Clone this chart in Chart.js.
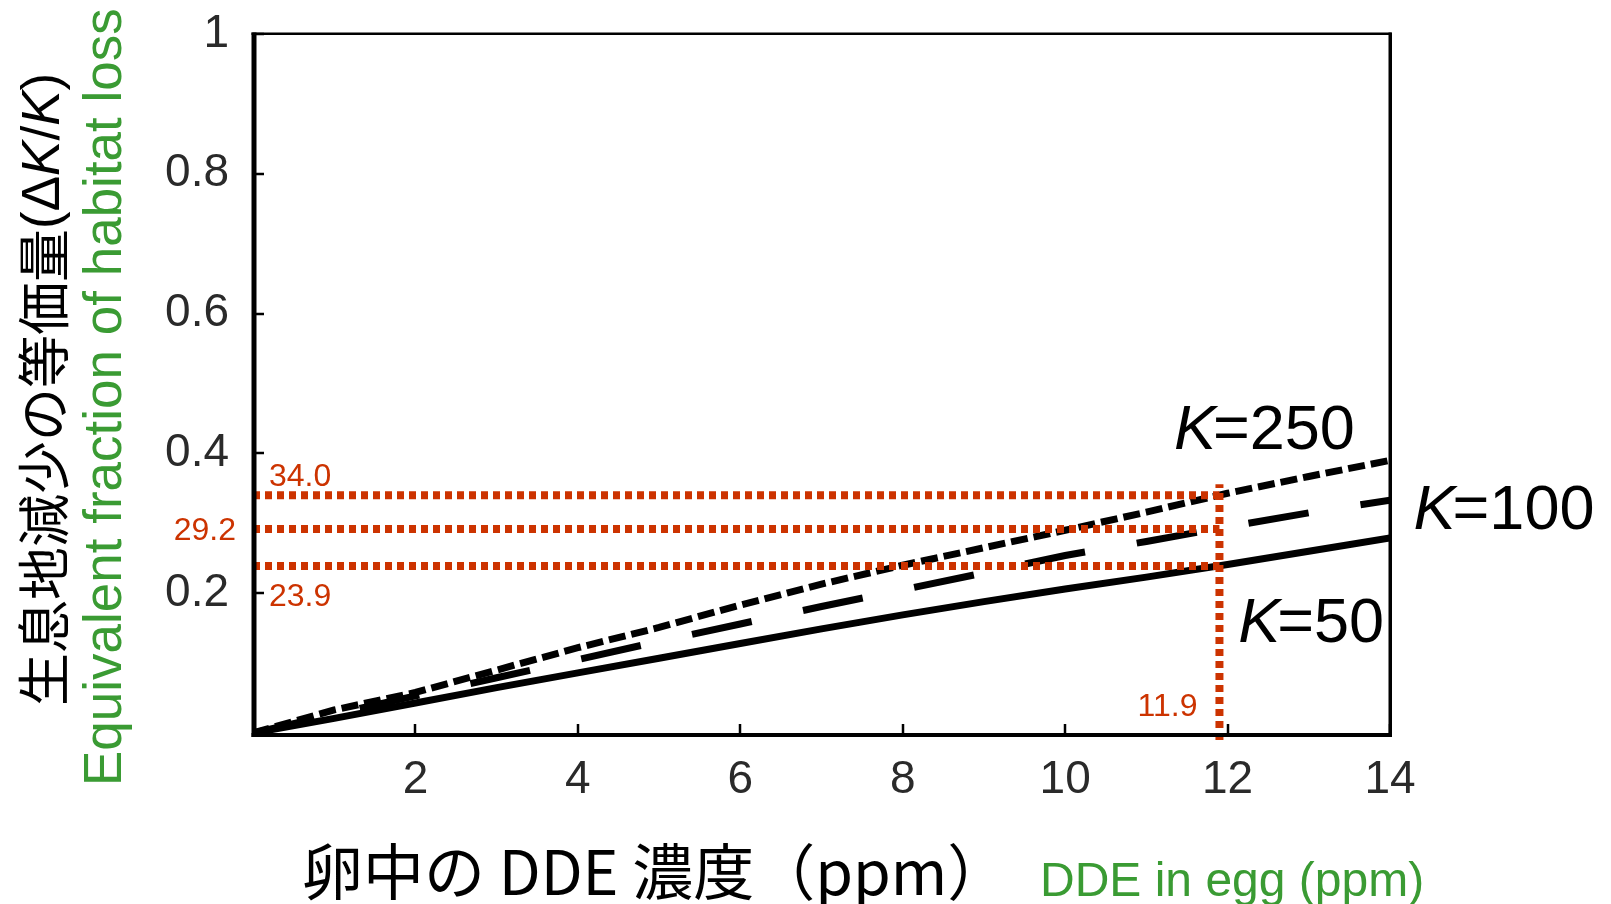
<!DOCTYPE html>
<html>
<head>
<meta charset="utf-8">
<script src="https://cdn.jsdelivr.net/npm/chart.js@4.4.1/dist/chart.umd.min.js"></script>
<style>
  html, body { margin: 0; padding: 0; background: #ffffff; }
  #wrap { width: 1611px; height: 904px; position: relative; }
</style>
</head>
<body>
<div id="wrap"><canvas id="chart" width="1611" height="904"></canvas></div>
<script>
// DDE concentration in egg (ppm) and equivalent fraction of habitat loss (ΔK/K)
const ddePpm   = [0, 1, 2, 3, 4, 5, 6, 7, 8, 9, 10, 11, 12, 13, 14];
const fracK50  = [0, 0.021, 0.043, 0.065, 0.086, 0.107, 0.128, 0.149, 0.169, 0.188, 0.206, 0.223, 0.241, 0.260, 0.279];
const fracK100 = [0, 0.027, 0.053, 0.079, 0.105, 0.131, 0.156, 0.181, 0.205, 0.229, 0.254, 0.274, 0.295, 0.315, 0.333];
const fracK250 = [0, 0.033, 0.058, 0.090, 0.122, 0.151, 0.183, 0.213, 0.240, 0.265, 0.290, 0.316, 0.343, 0.367, 0.390];

const seriesK = ['250', '100', '50'];

const xTickValues = [2, 4, 6, 8, 10, 12, 14];
const xTickLabels = ['2', '4', '6', '8', '10', '12', '14'];
const yTickValues = [0.2, 0.4, 0.6, 0.8, 1];
const yTickLabels = ['0.2', '0.4', '0.6', '0.8', '1'];

// reference reading at 11.9 ppm
const refDde = 11.9;
const refDdeLabel = '11.9';
const refFractions = [0.340, 0.292, 0.239];
const refFractionLabels = ['34.0', '29.2', '23.9'];

const yTitleJa = '生息地減少の等価量';
const yTitleEn = 'Equivalent fraction of habitat loss';
const xTitleJa = '卵中の DDE 濃度（ppm）';
const xTitleEn = 'DDE in egg (ppm)';

const RED = '#cc3300';
const GREEN = '#3a9b33';
const SANS = '"Liberation Sans", Arial, sans-serif';
const CJK = '"Noto Sans CJK JP", sans-serif';

const toPoints = ys => ddePpm.map((x, i) => ({ x: x, y: ys[i] }));

function refLine(data) {
  return {
    data: data,
    borderColor: RED,
    borderWidth: 8,
    borderDash: [7, 5],
    borderCapStyle: 'butt',
    pointRadius: 0,
    tension: 0,
    fill: false,
    order: 0,
    clip: false
  };
}

const curveBase = {
  borderColor: '#000000',
  borderWidth: 7,
  borderCapStyle: 'butt',
  borderJoinStyle: 'miter',
  pointRadius: 0,
  tension: 0,
  fill: false
};

// axis frame with heavier left/bottom edges
const framePlugin = {
  id: 'frame',
  afterDatasetsDraw(chart) {
    const { ctx, chartArea: a } = chart;
    ctx.save();
    ctx.fillStyle = '#000';
    ctx.fillRect(a.left - 1.5, a.top - 1.5, 5, a.bottom - a.top + 5.5);
    ctx.fillRect(a.left - 1.5, a.bottom, a.right - a.left + 3, 4);
    ctx.fillRect(a.left - 1.5, a.top - 1.5, a.right - a.left + 3, 2.5);
    ctx.fillRect(a.right - 1.5, a.top - 1.5, 3.5, a.bottom - a.top + 5.5);
    // inward tick marks
    const xs = chart.scales.x, ys = chart.scales.y;
    ctx.strokeStyle = '#000';
    ctx.lineWidth = 2.5;
    ctx.beginPath();
    xs.ticks.forEach(t => {
      const px = Math.round(xs.getPixelForValue(t.value));
      ctx.moveTo(px, a.bottom);
      ctx.lineTo(px, a.bottom - 9);
    });
    ys.ticks.forEach(t => {
      const py = Math.round(ys.getPixelForValue(t.value));
      ctx.moveTo(a.left, py);
      ctx.lineTo(a.left + 11, py);
    });
    ctx.stroke();
    ctx.restore();
  }
};

// series names, reference values and axis titles
const textPlugin = {
  id: 'texts',
  afterDraw(chart) {
    const { ctx } = chart;
    const xs = chart.scales.x, ys = chart.scales.y;
    ctx.save();

    // K labels
    const kLabel = (k, xVal, yVal) => {
      const px = xs.getPixelForValue(xVal), py = ys.getPixelForValue(yVal);
      ctx.fillStyle = '#000';
      ctx.textBaseline = 'alphabetic';
      ctx.textAlign = 'left';
      ctx.font = 'italic 63px ' + SANS;
      ctx.fillText('K', px, py);
      const w = ctx.measureText('K').width;
      ctx.font = '63px ' + SANS;
      ctx.fillText('=' + k, px + w - 3, py);
    };
    kLabel(seriesK[0], 11.34, 0.406);
    kLabel(seriesK[1], 14.29, 0.292);
    kLabel(seriesK[2], 12.13, 0.130);

    // reference values
    ctx.fillStyle = RED;
    ctx.font = '32px ' + SANS;
    ctx.textBaseline = 'alphabetic';
    ctx.textAlign = 'left';
    ctx.fillText(refFractionLabels[0], xs.getPixelForValue(0) + 16, ys.getPixelForValue(refFractions[0]) - 9);
    ctx.textAlign = 'right';
    ctx.fillText(refFractionLabels[1], xs.getPixelForValue(0) - 17, ys.getPixelForValue(refFractions[1]) + 11);
    ctx.textAlign = 'left';
    ctx.fillText(refFractionLabels[2], xs.getPixelForValue(0) + 16, ys.getPixelForValue(refFractions[2]) + 40);
    ctx.textAlign = 'right';
    ctx.fillText(refDdeLabel, xs.getPixelForValue(refDde) - 22, ys.getPixelForValue(0) - 17);

    // vertical titles
    ctx.save();
    ctx.translate(44, 706);
    ctx.rotate(-Math.PI / 2);
    ctx.fillStyle = '#000';
    ctx.textAlign = 'left';
    ctx.textBaseline = 'middle';
    let x = 0;
    const segs = [
      [yTitleJa, '53px ' + CJK],
      ['(Δ', '53px ' + SANS],
      ['K', 'italic 53px ' + SANS],
      ['/', '53px ' + SANS],
      ['K', 'italic 53px ' + SANS],
      [')', '53px ' + SANS]
    ];
    segs.forEach(([t, f]) => {
      ctx.font = f;
      ctx.fillText(t, x, 0);
      x += ctx.measureText(t).width;
    });
    ctx.restore();

    ctx.save();
    ctx.translate(121, 786);
    ctx.rotate(-Math.PI / 2);
    ctx.fillStyle = GREEN;
    ctx.textAlign = 'left';
    ctx.textBaseline = 'alphabetic';
    ctx.font = '53px ' + SANS;
    ctx.fillText(yTitleEn, 0, 0);
    ctx.restore();

    // horizontal titles
    ctx.fillStyle = '#000';
    ctx.textAlign = 'left';
    ctx.textBaseline = 'middle';
    ctx.font = '61px ' + CJK;
    ctx.fillText(xTitleJa, 302, 872);

    ctx.fillStyle = GREEN;
    ctx.textBaseline = 'alphabetic';
    ctx.font = '48px ' + SANS;
    ctx.fillText(xTitleEn, 1040, 896);

    ctx.restore();
  }
};

new Chart(document.getElementById('chart'), {
  type: 'line',
  data: {
    datasets: [
      Object.assign({ label: 'K=50', data: toPoints(fracK50), order: 3 }, curveBase),
      Object.assign({ label: 'K=100', data: toPoints(fracK100), order: 2, borderDash: [61, 52.5], borderDashOffset: 4 }, curveBase),
      Object.assign({ label: 'K=250', data: toPoints(fracK250), order: 1, borderDash: [17, 6] }, curveBase),
      refLine([{ x: 0, y: refFractions[0] }, { x: refDde, y: refFractions[0] }]),
      refLine([{ x: 0, y: refFractions[1] }, { x: refDde, y: refFractions[1] }]),
      refLine([{ x: 0, y: refFractions[2] }, { x: refDde, y: refFractions[2] }]),
      refLine([{ x: refDde, y: -0.01 }, { x: refDde, y: 0.356 }])
    ]
  },
  options: {
    responsive: false,
    animation: false,
    events: [],
    layout: { padding: { top: 34, right: 221, bottom: 0, left: 0 } },
    plugins: { legend: { display: false }, tooltip: { enabled: false } },
    scales: {
      x: {
        type: 'linear',
        min: 0,
        max: 14,
        afterBuildTicks: s => { s.ticks = xTickValues.map(v => ({ value: v })); },
        afterFit: s => { s.height = 171; s.paddingLeft = 0; s.paddingRight = 0; },
        grid: { display: false, drawTicks: false },
        border: { display: false },
        ticks: {
          padding: 20,
          color: '#2a2a2a',
          font: { family: 'Liberation Sans', size: 46 },
          maxRotation: 0,
          autoSkip: false,
          callback: (v, i) => xTickLabels[i]
        }
      },
      y: {
        type: 'linear',
        min: 0,
        max: 1,
        afterBuildTicks: s => { s.ticks = yTickValues.map(v => ({ value: v })); },
        afterFit: s => { s.width = 253; s.paddingTop = 0; s.paddingBottom = 0; },
        grid: { display: false, drawTicks: false },
        border: { display: false },
        ticks: {
          padding: 24,
          color: '#2a2a2a',
          font: { family: 'Liberation Sans', size: 46 },
          autoSkip: false,
          callback: (v, i) => yTickLabels[i]
        }
      }
    }
  },
  plugins: [framePlugin, textPlugin]
});
</script>
</body>
</html>
